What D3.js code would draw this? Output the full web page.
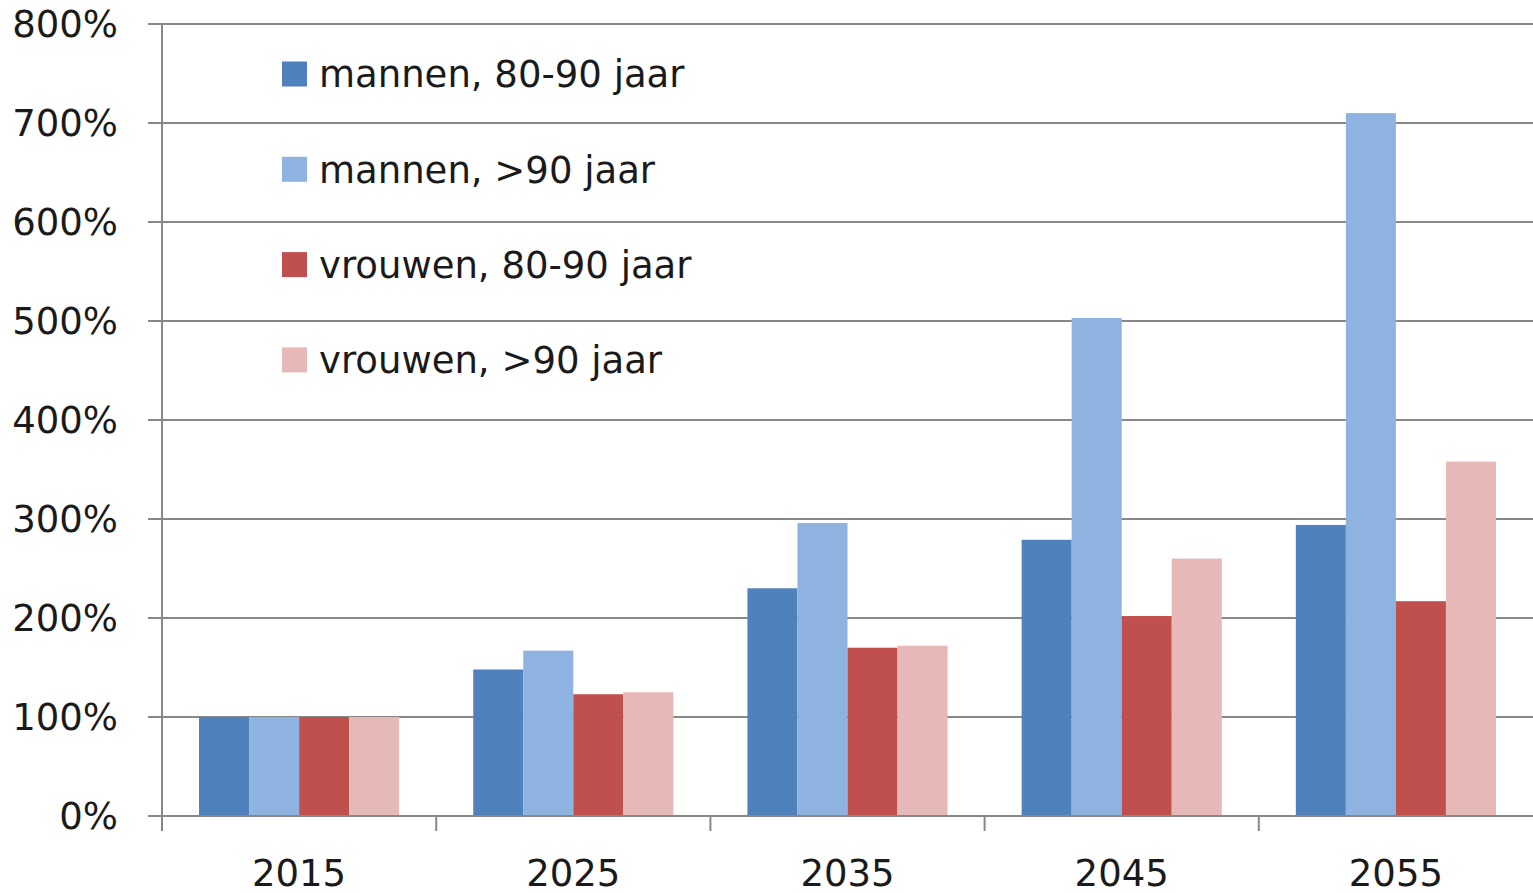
<!DOCTYPE html>
<html>
<head>
<meta charset="utf-8">
<script src="https://cdn.jsdelivr.net/npm/d3@7"></script>
<style>
  body { margin: 0; background: #fff; }
  svg { display: block; }
  text { font-family: "DejaVu Sans", "Open Sans", sans-serif; fill: #1a1a1a; }
</style>
</head>
<body>
<div id="chart"></div>
<script>
// Data
const years = ['2015', '2025', '2035', '2045', '2055'];
const seriesNames = ['mannen, 80-90 jaar', 'mannen, >90 jaar', 'vrouwen, 80-90 jaar', 'vrouwen, >90 jaar'];
const mannen8090 = [100, 148, 230, 279, 294];
const mannen90 = [100, 167, 296, 503, 710];
const vrouwen8090 = [100, 123, 170, 202, 217];
const vrouwen90 = [100, 125, 172, 260, 358];
const yTicks = [0, 100, 200, 300, 400, 500, 600, 700, 800];

const series = [mannen8090, mannen90, vrouwen8090, vrouwen90];
const colors = ['#4F81BD', '#8EB3E1', '#C0504D', '#E6B8B7'];

const W = 1533, H = 893;
const margin = { top: 24, right: 0, bottom: 77, left: 162 };

const svg = d3.select('#chart').append('svg')
    .attr('width', W)
    .attr('height', H);

const x = d3.scaleBand().domain(years).range([margin.left, W - margin.right]).padding(0);
const xs = d3.scaleBand().domain(d3.range(4)).range([0, x.bandwidth()]).paddingInner(0).paddingOuter(0.74);
const y = d3.scaleLinear().domain([0, 800]).range([H - margin.bottom, margin.top]);

const gridColor = '#888';

// Gridlines + y tick marks
svg.append('g')
    .selectAll('line')
    .data(yTicks)
    .join('line')
    .attr('x1', margin.left - 14)
    .attr('x2', W - margin.right)
    .attr('y1', d => y(d))
    .attr('y2', d => y(d))
    .attr('stroke', gridColor)
    .attr('stroke-width', 2);

// Y labels
svg.append('g')
    .selectAll('text')
    .data(yTicks)
    .join('text')
    .attr('x', 118)
    .attr('y', d => y(d))
    .attr('dy', '0.36em')
    .attr('text-anchor', 'end')
    .attr('font-size', 37)
    .text(d => d + '%');

// Bars
const groups = svg.append('g')
    .selectAll('g')
    .data(years)
    .join('g')
    .attr('transform', d => `translate(${x(d)},0)`);

groups.selectAll('rect')
    .data((d, i) => series.map((s, k) => ({ k, v: s[i] })))
    .join('rect')
    .attr('x', d => xs(d.k))
    .attr('width', xs.bandwidth())
    .attr('y', d => y(d.v))
    .attr('height', d => y(0) - y(d.v))
    .attr('fill', d => colors[d.k]);

// Y axis line
svg.append('line')
    .attr('x1', margin.left).attr('x2', margin.left)
    .attr('y1', margin.top).attr('y2', y(0) + 15)
    .attr('stroke', gridColor).attr('stroke-width', 2);

// X axis line redrawn over bars
svg.append('line')
    .attr('x1', margin.left - 14).attr('x2', W)
    .attr('y1', y(0)).attr('y2', y(0))
    .attr('stroke', gridColor).attr('stroke-width', 2);

// X tick marks at category boundaries
svg.append('g')
    .selectAll('line')
    .data(years.slice(1))
    .join('line')
    .attr('x1', d => x(d)).attr('x2', d => x(d))
    .attr('y1', y(0)).attr('y2', y(0) + 15)
    .attr('stroke', gridColor).attr('stroke-width', 2);

// X labels
svg.append('g')
    .selectAll('text')
    .data(years)
    .join('text')
    .attr('x', d => x(d) + x.bandwidth() / 2)
    .attr('y', 886)
    .attr('text-anchor', 'middle')
    .attr('font-size', 37)
    .text(d => d);

// Legend
const legend = svg.append('g')
    .selectAll('g')
    .data(seriesNames)
    .join('g')
    .attr('transform', (d, i) => `translate(282,${74 + i * 95.3})`);

legend.append('rect')
    .attr('x', 0).attr('y', -12.5)
    .attr('width', 25).attr('height', 25)
    .attr('fill', (d, i) => colors[i]);

legend.append('text')
    .attr('x', 37)
    .attr('y', 0)
    .attr('dy', '0.36em')
    .attr('font-size', 37)
    .text(d => d);
</script>
</body>
</html>
